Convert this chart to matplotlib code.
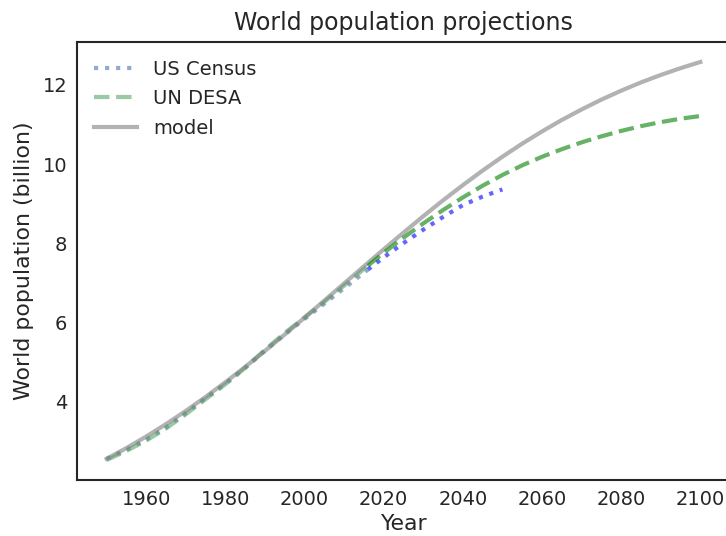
import numpy as np
import matplotlib
matplotlib.use("Agg")
import matplotlib.pyplot as plt

# historical estimates (billions)
hist_years = [1950, 1955, 1960, 1965, 1970, 1975, 1980, 1985, 1990, 1995, 2000, 2005, 2010, 2015, 2016]
census_hist = [2.558, 2.782, 3.043, 3.350, 3.712, 4.089, 4.451, 4.855, 5.287, 5.700, 6.090, 6.474, 6.864, 7.257, 7.335]
un_hist = [2.525, 2.758, 3.018, 3.322, 3.682, 4.061, 4.440, 4.853, 5.310, 5.735, 6.127, 6.520, 6.930, 7.349, 7.433]

# projections
census_proj_years = [2016, 2020, 2025, 2030, 2035, 2040, 2045, 2050]
census_proj = [7.335, 7.643, 8.004, 8.343, 8.664, 8.963, 9.18, 9.36]
un_proj_years = [2016, 2020, 2025, 2030, 2035, 2040, 2045, 2050, 2055, 2060, 2065, 2070,
                 2075, 2080, 2085, 2090, 2095, 2100]
un_proj = [7.433, 7.758, 8.142, 8.501, 8.839, 9.157, 9.454, 9.725, 9.968, 10.184, 10.375,
           10.548, 10.700, 10.837, 10.958, 11.059, 11.146, 11.213]

# model curve
model_years = list(range(1950, 2101, 5))
model = [2.558, 2.829, 3.121, 3.434, 3.767, 4.120, 4.491, 4.878, 5.282, 5.696, 6.121,
         6.552, 6.985, 7.418, 7.847, 8.269, 8.683, 9.084, 9.468, 9.836, 10.186, 10.516,
         10.824, 11.113, 11.379, 11.627, 11.853, 12.062, 12.250, 12.422, 12.578]

plt.rcParams['font.family'] = 'DejaVu Sans'
text_color = '#262626'

fig = plt.figure(figsize=(7.26, 5.36), dpi=100)
ax = fig.add_axes([0.106, 0.1045, 0.8995, 0.817])

ax.plot(hist_years, census_hist, ':', color='#4c72b0', alpha=0.6, lw=3, label='US Census')
ax.plot(hist_years, un_hist, '--', color='#55a868', alpha=0.6, lw=3, label='UN DESA')
ax.plot(model_years, model, color='gray', alpha=0.6, lw=3, label='model')
ax.plot(census_proj_years, census_proj, 'b:', alpha=0.6, lw=3)
ax.plot(un_proj_years, un_proj, 'g--', alpha=0.6, lw=3)

ax.set_title('World population projections', fontsize=17, color=text_color, pad=9)
ax.set_xlabel('Year', fontsize=15.8, color=text_color, labelpad=4)
ax.set_ylabel('World population (billion)', fontsize=15.8, color=text_color, labelpad=6)
ax.set_xticks([1960, 1980, 2000, 2020, 2040, 2060, 2080, 2100])
ax.set_yticks([4, 6, 8, 10, 12])
ax.tick_params(length=0, labelsize=14, labelcolor=text_color, pad=7)
for s in ax.spines.values():
    s.set_color(text_color)
    s.set_linewidth(1.5)

ax.legend(loc='upper left', frameon=False, fontsize=14, handlelength=2.2,
          labelspacing=0.55, labelcolor=text_color)

fig.savefig('out.png', dpi=100)
